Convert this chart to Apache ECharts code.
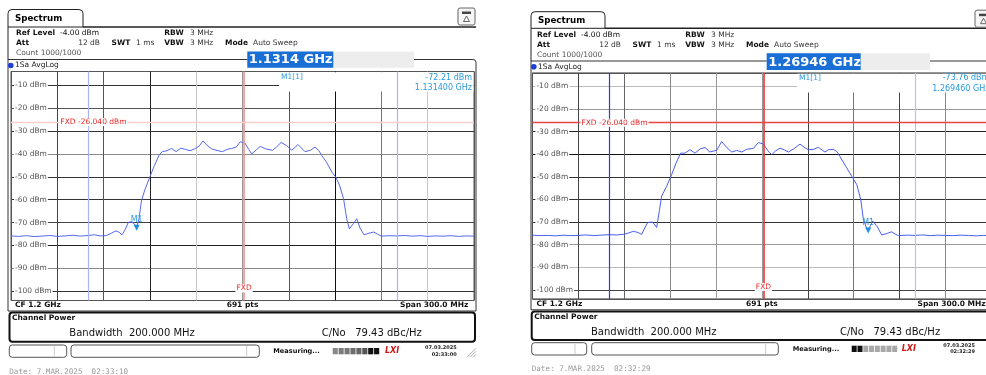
<!DOCTYPE html>
<html><head><meta charset="utf-8">
<script src="https://cdn.jsdelivr.net/npm/echarts@6/dist/echarts.min.js"></script>
<style>html,body{margin:0;padding:0;background:#fff}#c{width:986px;height:375px}</style>
</head><body><div id="c"></div>
<script>
const FONT = 'DejaVu Sans';

// ---------- data ----------
const leftFreqMHz = [1050,1055,1060,1065,1070,1075,1080,1085,1090,1095,1100,1104,1108,1112,1115,1118,1120,1122,1124,1126,1128,1130,1131.4,1133,1134.5,1136.8,1140,1143,1146,1148,1151,1154,1157,1160,1163,1166,1169,1172,1174.5,1177,1180,1183.5,1187,1190,1193,1196,1198.5,1201.5,1204,1206,1209,1211.5,1215,1219.5,1222,1225,1228.5,1232,1236,1240.5,1244,1247,1249.5,1251.5,1254.5,1258,1260.5,1263,1265.5,1267.5,1269.2,1271.8,1274,1276.2,1278.7,1282,1285,1288,1290,1295,1300,1305,1310,1315,1320,1325,1330,1335,1340,1345,1350];
const leftLevelDbm = [-75.8,-76.0,-75.7,-76.1,-75.9,-75.6,-76.0,-75.8,-75.5,-75.9,-75.6,-75.3,-75.8,-75.6,-74.6,-73.6,-74.2,-75.3,-73.0,-69.9,-69.6,-70.6,-72.2,-68.0,-60.5,-55.5,-50.0,-45.0,-40.5,-39.0,-38.6,-37.6,-39.0,-37.5,-38.0,-38.6,-37.8,-36.5,-34.3,-36.2,-37.8,-38.5,-39.0,-38.0,-37.6,-37.0,-34.7,-35.2,-38.0,-40.0,-38.2,-36.7,-37.8,-38.4,-37.0,-35.0,-36.3,-38.4,-35.9,-39.0,-38.4,-37.0,-38.6,-40.8,-43.7,-48.0,-50.2,-53.9,-59.6,-68.3,-72.7,-70.5,-68.3,-72.4,-75.3,-74.6,-74.1,-75.2,-75.9,-75.7,-75.8,-75.6,-75.9,-75.7,-76.0,-75.8,-75.9,-75.7,-76.0,-75.8,-75.9];
const rightFreqMHz = [1050,1055,1060,1065,1070,1075,1080,1085,1090,1095,1100,1105,1110,1113,1116,1119,1121.4,1123.5,1125.4,1128.6,1131.2,1133,1134.5,1137.8,1141,1143.9,1146.9,1149.7,1153,1156.3,1159.5,1162.8,1166,1170.5,1173.7,1177,1180.3,1183.5,1186.8,1190,1194.4,1197.7,1201,1204,1206.4,1209,1211.8,1214.5,1217.3,1221,1224.9,1227.5,1230.3,1233.5,1236.9,1241.2,1243.5,1246.7,1249,1251,1255.4,1258.7,1262,1264.6,1266.3,1268,1269.46,1271,1272.4,1275.4,1278.3,1282,1284.8,1287,1289.2,1295,1300,1305,1310,1315,1320,1325,1330,1335,1340,1345,1350];
const rightLevelDbm = [-75.8,-76.0,-75.9,-76.1,-75.8,-76.0,-75.9,-75.7,-76.0,-75.8,-75.6,-75.7,-75.4,-74.8,-74.1,-74.6,-75.5,-72.5,-70.2,-70.0,-72.4,-65.0,-58.5,-54.1,-49.0,-43.9,-39.5,-39.5,-38.0,-39.5,-37.7,-37.0,-39.0,-38.2,-34.4,-37.0,-39.0,-38.3,-39.0,-37.8,-37.4,-34.8,-35.5,-38.5,-40.2,-38.5,-37.3,-38.0,-39.0,-37.5,-35.5,-36.8,-38.0,-37.9,-36.9,-39.0,-38.0,-37.8,-38.8,-41.0,-46.0,-49.7,-53.4,-60.0,-68.7,-72.0,-73.76,-71.5,-69.5,-72.0,-75.7,-75.0,-74.3,-75.3,-76.0,-75.8,-75.9,-75.7,-76.0,-75.8,-75.9,-76.0,-75.8,-75.9,-76.1,-75.9,-76.0];

const spanStartMHz = 1050, spanEndMHz = 1350, freqGridMHz = 30;
const bottomLevelDbm = -104, refLevelDbm = -4, levelGridDb = 10;
const centerFreqMHz = 1200, channelBwMHz = 200;
const fxdLevelDbm = -26.04, fxdFreqMHz = 1201;
const leftMarker = [1131.4, -72.21];
const rightMarker = [1269.46, -73.76];
const leftTitleFreq = '1.1314 GHz', rightTitleFreq = '1.26946 GHz';
const leftReadout = ['M1[1]', '-72.21 dBm', '1.131400 GHz'];
const rightReadout = ['M1[1]', '-73.76 dBm', '1.269460 GHz'];
const leftDate = 'Date: 7.MAR.2025  02:33:10', rightDate = 'Date: 7.MAR.2025  02:32:29';
const leftClock = ['07.03.2025', '02:33:00'], rightClock = ['07.03.2025', '02:32:29'];
const headerRows = {
  refLevel: '-4.00 dBm', att: '12 dB', swt: '1 ms', rbw: '3 MHz', vbw: '3 MHz',
  mode: 'Auto Sweep', count: 'Count 1000/1000', trace: '1Sa AvgLog',
  cf: 'CF 1.2 GHz', pts: '691 pts', span: 'Span 300.0 MHz',
  cpTitle: 'Channel Power', bw: 'Bandwidth  200.000 MHz', cno: 'C/No   79.43 dBc/Hz'
};

// ---------- layout ----------
const panels = [
  {
    grid: {left: 11, top: 71.5, width: 463, height: 229},
    hx: 0, hy: 0, tab: [8, 9.5, 75, 17.5], outerL: 8, outerR: 476, frameTop: 59.5, frameBot: 311,
    rowY: 65.5, freq: {L: 247.3, R: 333.3, G: 414, T: 51.5, B: 67.7, text: leftTitleFreq},
    readout: {L: 279, T: 72.3, B: 91.5, y1: 77.5, y2: 88, texts: leftReadout},
    infoY: 305.5,
    cp: {L: 9.5, R: 475, T: 312.5, B: 341.7, titleY: 318.3, bwX: 69.3, cnoX: 321.7, textY: 333.3},
    sb: {T: 345, B: 357.3, b1: [9.3, 66.7, 54.3], b2: [71, 259.3, 246.7], measX: 273.3, prog: [332.7, 380], darkRight: true, lxi: 385, dateX: 456.7, clock: leftClock, grip: 467},
    footer: {x: 9.3, y: 371.7, text: leftDate},
    data: [leftFreqMHz, leftLevelDbm], marker: leftMarker,
    hColors: ['#555','#333','#888','#222','#444','#333','#333','#8a8a8a','#333','#555','#333','#555'],
    vColors: ['#555','#444','#555','#222','#c8c8c8','#999','#555','#111','#777','#c8c8c8','#555'],
    chLines: ['#a9b3f7', '#a9b3f7'], fxdV: '#f28f8f', fxdH: '#fbcfcf', trace: '#5568f0'
  },
  {
    grid: {left: 532.4, top: 72.9, width: 459, height: 226},
    hx: 521, hy: 2, tab: [531, 11.7, 74, 16.6], outerL: 531, outerR: 993, frameTop: 61, frameBot: 309.8,
    rowY: 66.7, freq: {L: 766.7, R: 860.7, G: 930, T: 53.3, B: 70, text: rightTitleFreq},
    readout: {L: 797, T: 73.8, B: 92.5, y1: 78, y2: 88.5, texts: rightReadout},
    infoY: 304.5,
    cp: {L: 531.7, R: 996, T: 311.5, B: 340, titleY: 316.7, bwX: 591, cnoX: 840, textY: 332.3},
    sb: {T: 342.7, B: 355, b1: [531.7, 586.7, 575], b2: [591.7, 778.3, 765.7], measX: 792.7, prog: [851.7, 898], darkRight: false, lxi: 901.7, dateX: 975, clock: rightClock, grip: 990},
    footer: {x: 531.7, y: 369.3, text: rightDate},
    data: [rightFreqMHz, rightLevelDbm], marker: rightMarker,
    hColors: ['#555','#444','#bbb','#999','#333','#333','#333','#111','#222','#999','#bbb','#555'],
    vColors: ['#555','#444','#666','#888','#999','#999','#444','#777','#444','#888','#555'],
    chLines: ['#2a3ee0', '#b9c0f2'], fxdV: '#ee3030', fxdH: '#ee4444', trace: '#4a5ef0'
  }
];

function txt(x, y, s, o) {
  return {type: 'text', z: 6, x: x, y: y, silent: true,
    style: Object.assign({text: s, fontFamily: FONT, fontSize: 7.5, fill: '#111',
      textAlign: 'left', align: 'left', textVerticalAlign: 'middle', verticalAlign: 'middle'}, o || {})};
}
function rect(x, y, w, h, st, r, z) {
  return {type: 'rect', z: z == null ? 1 : z, silent: true, shape: {x: x, y: y, width: w, height: h, r: r || 0},
    style: Object.assign({fill: 'none', stroke: null}, st)};
}
function line(x1, y1, x2, y2, stroke, w, z) {
  return {type: 'line', z: z == null ? 1 : z, silent: true, shape: {x1: x1, y1: y1, x2: x2, y2: y2},
    style: {stroke: stroke, lineWidth: w || 1}};
}

function panelGraphics(P) {
  const g = [];
  const dx = P.hx, dy = P.hy;
  const plotL = P.grid.left, plotR = P.grid.left + P.grid.width;
  // tab + header line + frames
  g.push(rect(P.tab[0], P.tab[1], P.tab[2], P.tab[3], {fill: '#fff', stroke: '#222', lineWidth: 1}, [4, 4, 0, 0], 2));
  g.push(line(P.tab[0] + P.tab[2], P.tab[1] + P.tab[3], P.outerR, P.tab[1] + P.tab[3], '#222', 1.6, 2));
  g.push(line(P.outerL, P.tab[1] + P.tab[3], P.outerL, P.frameTop, '#222', 1, 2));
  g.push(rect(P.outerL, P.frameTop, P.outerR - P.outerL, P.frameBot - P.frameTop, {stroke: '#333', lineWidth: 1}, [0, 3, 0, 0], 1));
  g.push(txt(P.tab[0] + 7, P.tab[1] + 9, 'Spectrum', {fontWeight: 'bold', fontSize: 8.7, fill: '#000'}));
  // icon
  const ix = P.outerR - 18, iy = P.tab[1] - 1.5;
  g.push(rect(ix, iy, 17, 17, {fill: '#f6f6f6', stroke: '#666', lineWidth: 1}, 2, 2));
  g.push(rect(ix + 4, iy + 3.5, 9, 2.5, {fill: '#444'}, 0, 3));
  g.push({type: 'polygon', z: 3, silent: true, shape: {points: [[ix + 8.5, iy + 8], [ix + 5.5, iy + 13.5], [ix + 11.5, iy + 13.5]]}, style: {fill: 'none', stroke: '#444', lineWidth: 0.8}});
  // header texts
  const b = {fontWeight: 'bold'};
  g.push(txt(16 + dx, 33.3 + dy, 'Ref Level', b));
  g.push(txt(60 + dx, 33.3 + dy, headerRows.refLevel));
  g.push(txt(164.3 + dx, 33.3 + dy, 'RBW', b));
  g.push(txt(190 + dx, 33.3 + dy, headerRows.rbw, {fill: '#333'}));
  g.push(txt(16 + dx, 43.5 + dy, 'Att', b));
  g.push(txt(100 + dx, 43.5 + dy, headerRows.att, {textAlign: 'right', align: 'right', fill: '#333'}));
  g.push(txt(111.5 + dx, 43.5 + dy, 'SWT', b));
  g.push(txt(136 + dx, 43.5 + dy, headerRows.swt, {fill: '#333'}));
  g.push(txt(164.3 + dx, 43.5 + dy, 'VBW', b));
  g.push(txt(190 + dx, 43.5 + dy, headerRows.vbw, {fill: '#333'}));
  g.push(txt(225 + dx, 43.5 + dy, 'Mode', b));
  g.push(txt(253 + dx, 43.5 + dy, headerRows.mode, {fill: '#333'}));
  g.push(txt(16 + dx, 53.5 + dy, headerRows.count, {fill: '#555'}));
  // frequency title box
  const F = P.freq;
  g.push(rect(F.L, F.T, F.G - F.L, F.B - F.T, {fill: '#ededed'}, 0, 3));
  g.push(rect(F.L, F.T, F.R - F.L, F.B - F.T, {fill: '#1a6fd6'}, 0, 4));
  g.push(txt(F.L + 1.5, (F.T + F.B) / 2 + 0.5, F.text, {fill: '#fff', fontWeight: 'bold', fontSize: 13}));
  // trace row
  g.push({type: 'circle', z: 3, silent: true, shape: {cx: P.outerL + 2.8, cy: P.rowY, r: 2.8}, style: {fill: '#1c3fd8'}});
  g.push(txt(P.outerL + 7, P.rowY, headerRows.trace, {fill: '#222'}));
  // marker readout
  const R = P.readout;
  g.push(rect(R.L, R.T, plotR - R.L - 0.5, R.B - R.T, {fill: '#fff'}, 0, 1));
  g.push(txt(R.L + 2, R.y1, R.texts[0], {fill: '#2a9ae0', fontSize: 7.5}));
  g.push(txt(plotR - 2, R.y1, R.texts[1], {fill: '#2a9ae0', fontSize: 8, textAlign: 'right', align: 'right'}));
  g.push(txt(plotR - 2, R.y2, R.texts[2], {fill: '#2a9ae0', fontSize: 8, textAlign: 'right', align: 'right'}));
  // info row
  g.push(txt(plotL + 4, P.infoY, headerRows.cf, b));
  g.push(txt(plotL + P.grid.width / 2, P.infoY, headerRows.pts, {fontWeight: 'bold', textAlign: 'center', align: 'center'}));
  g.push(txt(plotR - 5.7, P.infoY, headerRows.span, {fontWeight: 'bold', textAlign: 'right', align: 'right'}));
  // channel power box
  const C = P.cp;
  g.push(rect(C.L, C.T, C.R - C.L, C.B - C.T, {stroke: '#111', lineWidth: 2}, 3, 2));
  g.push(txt(C.L + 2.5, C.titleY, headerRows.cpTitle, b));
  g.push(txt(C.bwX, C.textY, headerRows.bw, {fontSize: 10, fill: '#111'}));
  g.push(txt(C.cnoX, C.textY, headerRows.cno, {fontSize: 10, fill: '#111'}));
  // status bar
  const S = P.sb, sh = S.B - S.T;
  g.push(rect(S.b1[0], S.T, S.b1[1] - S.b1[0], sh, {stroke: '#555', lineWidth: 1}, 3, 2));
  g.push(line(S.b1[2], S.T + 1, S.b1[2], S.B - 1, '#ccc', 1, 2));
  g.push(rect(S.b2[0], S.T, S.b2[1] - S.b2[0], sh, {stroke: '#555', lineWidth: 1}, 3, 2));
  g.push(line(S.b2[2], S.T + 1, S.b2[2], S.B - 1, '#ccc', 1, 2));
  g.push(txt(S.measX, (S.T + S.B) / 2, 'Measuring...', {fontWeight: 'bold', fontSize: 6.6}));
  const pw = (S.prog[1] - S.prog[0]) / 8;
  for (let i = 0; i < 8; i++) {
    const dark = S.darkRight ? i >= 6 : i < 2;
    const col = dark ? '#111' : (S.darkRight ? ['#888', '#7a7a7a', '#777', '#6e6e6e', '#666', '#555'][i] : '#a8a8a8');
    g.push(rect(S.prog[0] + i * pw, S.T + 3, pw - 0.8, sh - 6, {fill: col}, 0, 2));
  }
  g.push(txt(S.lxi, (S.T + S.B) / 2, 'LXI', {fill: '#d01818', fontWeight: 'bold', fontStyle: 'italic', fontSize: 8}));
  g.push(txt(S.dateX, S.T + 3, S.clock[0], {fontWeight: 'bold', fontSize: 5, textAlign: 'right', align: 'right', fill: '#222'}));
  g.push(txt(S.dateX, S.T + 9.3, S.clock[1], {fontWeight: 'bold', fontSize: 5, textAlign: 'right', align: 'right', fill: '#222'}));
  for (let k = 0; k < 3; k++) {
    g.push(line(S.grip + 3 * k, S.B, S.grip + 9, S.B - 9 + 3 * k, '#999', 0.8, 2));
  }
  // footer
  g.push(txt(P.footer.x, P.footer.y, P.footer.text, {fontFamily: 'DejaVu Sans Mono', fontSize: 7.6, fill: '#999'}));
  return g;
}

const grids = [], xAxes = [], yAxes = [], series = [], graphics = [];
panels.forEach(function (P, i) {
  grids.push(Object.assign({show: true, borderColor: '#555', borderWidth: 1, backgroundColor: '#fff', containLabel: false, outerBoundsMode: 'none'}, P.grid));
  xAxes.push({
    gridIndex: i, type: 'value', min: spanStartMHz, max: spanEndMHz, interval: freqGridMHz,
    axisLabel: {show: false}, axisTick: {show: false}, axisLine: {show: false},
    splitLine: {show: true, lineStyle: {color: P.vColors, width: 1}}
  });
  yAxes.push({
    gridIndex: i, type: 'value', min: bottomLevelDbm, max: refLevelDbm, minInterval: levelGridDb, maxInterval: levelGridDb,
    axisTick: {show: false}, axisLine: {show: false},
    axisLabel: {inside: true, margin: 3, showMinLabel: false, showMaxLabel: false,
      formatter: function (v) { return v + ' dBm'; },
      color: '#555', fontSize: 7.5, fontFamily: FONT, backgroundColor: '#fff', padding: [0, 1, 0, 1]},
    splitLine: {show: true, lineStyle: {color: P.hColors, width: 1}}
  });
  const pts = P.data[0].map(function (f, k) { return [f, P.data[1][k]]; });
  series.push({
    type: 'line', xAxisIndex: i, yAxisIndex: i, data: pts, symbol: 'none', showSymbol: false,
    lineStyle: {color: P.trace, width: 1}, animation: false, z: 3,
    markLine: {
      silent: true, symbol: ['none', 'none'], animation: false, label: {show: false},
      lineStyle: {type: 'solid'},
      data: [
        {xAxis: centerFreqMHz - channelBwMHz / 2, lineStyle: {color: P.chLines[0], width: 1.2, type: 'solid'}},
        {xAxis: centerFreqMHz + channelBwMHz / 2, lineStyle: {color: P.chLines[1], width: 1.2, type: 'solid'}},
        {xAxis: fxdFreqMHz, lineStyle: {color: P.fxdV, width: 1.6, type: 'solid'}},
        {yAxis: fxdLevelDbm, lineStyle: {color: P.fxdH, width: 1.3, type: 'solid'}}
      ]
    },
    markPoint: {
      silent: true, animation: false,
      data: [
        {coord: P.marker, symbol: 'triangle', symbolRotate: 180, symbolSize: 6, itemStyle: {color: '#1f8fe6'},
          label: {show: true, formatter: 'M1', position: 'top', distance: 1, color: '#2a9ae0', fontSize: 8, fontFamily: FONT}},
        {coord: [1081, fxdLevelDbm], symbol: 'rect', symbolSize: 1, itemStyle: {color: 'rgba(0,0,0,0)'},
          label: {show: true, formatter: 'FXD -26.040 dBm', position: 'right', distance: 0, color: '#e82a2a', fontSize: 7.5, fontFamily: FONT, backgroundColor: '#fff', padding: [0, 1, 0, 1]}},
        {coord: [fxdFreqMHz, -98.7], symbol: 'rect', symbolSize: 1, itemStyle: {color: 'rgba(0,0,0,0)'},
          label: {show: true, formatter: 'FXD', position: 'inside', color: '#e82a2a', fontSize: 7.5, fontFamily: FONT, backgroundColor: '#fff', padding: [0, 1, 0, 1]}}
      ]
    }
  });
  panelGraphics(P).forEach(function (e) { graphics.push(e); });
});

const chart = echarts.init(document.getElementById('c'), null, {renderer: 'canvas'});
chart.setOption({
  animation: false,
  backgroundColor: '#fff',
  grid: grids, xAxis: xAxes, yAxis: yAxes, series: series,
  graphic: {elements: graphics}
});
</script></body></html>
